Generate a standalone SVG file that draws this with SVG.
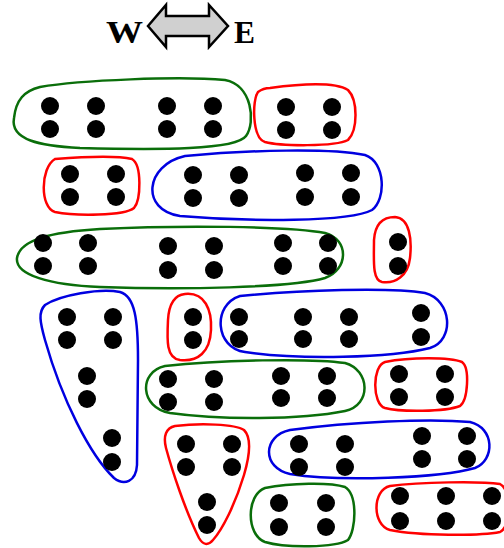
<svg xmlns="http://www.w3.org/2000/svg" width="504" height="548" viewBox="0 0 504 548">
<style>
.g{fill:none;stroke:#0a6e0a;stroke-width:2.5}
.r{fill:none;stroke:#ff0000;stroke-width:2.5}
.b{fill:none;stroke:#0000e0;stroke-width:2.5}
.d{fill:#000}
.lbl{font-family:"Liberation Serif","Times New Roman",serif;font-weight:bold;font-size:31px;fill:#000}
</style>
<rect width="504" height="548" fill="#fff"/>
<g id="compass">
<text class="lbl" x="106" y="43" textLength="37" lengthAdjust="spacingAndGlyphs">W</text>
<text class="lbl" x="234" y="43" textLength="21" lengthAdjust="spacingAndGlyphs">E</text>
<polygon points="148,26 166,5 166,16 209,16 209,5 228,26 209,47 209,36 166,36 166,47" fill="#d0d0d0" stroke="#000" stroke-width="2.5" stroke-linejoin="miter"/>
</g>
<g id="connectors"></g>
<g id="n1"><path class="g" d="M40,87 C80,80 180,76 225,80 C252,85 256,122 246,136 C236,150 160,150 80,148 C40,146 10,140 14,118 C16,100 24,91 40,87 Z"/>
<circle class="d" cx="50" cy="106" r="9"/><circle class="d" cx="96" cy="106" r="9"/><circle class="d" cx="167" cy="106" r="9"/><circle class="d" cx="213" cy="106" r="9"/>
<circle class="d" cx="50" cy="129" r="9"/><circle class="d" cx="96" cy="129" r="9"/><circle class="d" cx="167" cy="129" r="9"/><circle class="d" cx="213" cy="129" r="9"/></g>
<g id="n2"><path class="r" d="M270,88 C300,84 335,82 348,90 C358,100 358,130 348,140 C335,147 280,146 265,142 C252,138 252,100 258,92 C262,89 266,88 270,88 Z"/>
<circle class="d" cx="286" cy="107" r="9"/><circle class="d" cx="332" cy="107" r="9"/><circle class="d" cx="286" cy="130" r="9"/><circle class="d" cx="332" cy="130" r="9"/></g>
<g id="n3"><path class="r" d="M55,159 C80,157 115,155 132,159 C142,165 141,200 134,208 C124,216 75,216 55,212 C40,208 40,168 55,159 Z"/>
<circle class="d" cx="70" cy="174" r="9"/><circle class="d" cx="116" cy="174" r="9"/><circle class="d" cx="70" cy="197" r="9"/><circle class="d" cx="116" cy="197" r="9"/></g>
<g id="n4"><path class="b" d="M185,156 C250,150 330,148 365,155 C386,162 386,200 372,210 C350,222 250,222 180,216 C140,210 145,165 185,156 Z"/>
<circle class="d" cx="193" cy="175" r="9"/><circle class="d" cx="239" cy="175" r="9"/><circle class="d" cx="193" cy="198" r="9"/><circle class="d" cx="239" cy="198" r="9"/>
<circle class="d" cx="305" cy="173" r="9"/><circle class="d" cx="351" cy="173" r="9"/><circle class="d" cx="305" cy="197" r="9"/><circle class="d" cx="351" cy="197" r="9"/></g>
<g id="n5"><path class="g" d="M17,258 C20,240 50,232 100,229 C180,225 290,226 325,233 C350,240 348,270 325,278 C290,288 180,290 100,287 C50,285 15,275 17,258 Z"/>
<circle class="d" cx="43" cy="243" r="9"/><circle class="d" cx="88" cy="243" r="9"/><circle class="d" cx="43" cy="266" r="9"/><circle class="d" cx="88" cy="266" r="9"/>
<circle class="d" cx="168" cy="246" r="9"/><circle class="d" cx="214" cy="246" r="9"/><circle class="d" cx="168" cy="270" r="9"/><circle class="d" cx="214" cy="270" r="9"/>
<circle class="d" cx="283" cy="243" r="9"/><circle class="d" cx="328" cy="243" r="9"/><circle class="d" cx="283" cy="266" r="9"/><circle class="d" cx="328" cy="266" r="9"/></g>
<g id="n6"><path class="r" d="M395,217 C410,218 412,240 410,258 C408,276 395,284 382,282 C372,280 374,260 374,240 C375,225 382,217 395,217 Z"/>
<circle class="d" cx="398" cy="242" r="9"/><circle class="d" cx="398" cy="266" r="9"/></g>
<g id="n7"><path class="b" d="M45,305 C60,295 100,288 120,292 C135,296 138,320 138,360 L137,465 C136,482 124,486 114,478 C90,455 62,400 45,340 C40,322 38,312 45,305 Z"/>
<circle class="d" cx="67" cy="317" r="9"/><circle class="d" cx="113" cy="317" r="9"/><circle class="d" cx="67" cy="340" r="9"/><circle class="d" cx="113" cy="340" r="9"/>
<circle class="d" cx="87" cy="376" r="9"/><circle class="d" cx="87" cy="399" r="9"/><circle class="d" cx="112" cy="438" r="9"/><circle class="d" cx="112" cy="462" r="9"/></g>
<g id="n8"><path class="r" d="M185,294 C205,292 212,310 211,330 C210,352 198,362 180,360 C166,358 167,340 168,320 C169,303 175,295 185,294 Z"/>
<circle class="d" cx="193" cy="317" r="9"/><circle class="d" cx="193" cy="340" r="9"/></g>
<g id="n9"><path class="b" d="M240,296 C300,290 390,287 425,293 C452,300 455,340 430,348 C390,358 300,360 245,352 C215,348 212,305 240,296 Z"/>
<circle class="d" cx="239" cy="317" r="9"/><circle class="d" cx="303" cy="317" r="9"/><circle class="d" cx="349" cy="317" r="9"/>
<circle class="d" cx="239" cy="339" r="9"/><circle class="d" cx="303" cy="339" r="9"/><circle class="d" cx="349" cy="339" r="9"/>
<circle class="d" cx="421" cy="313" r="9"/><circle class="d" cx="421" cy="337" r="9"/></g>
<g id="n10"><path class="g" d="M165,366 C220,360 310,358 345,363 C370,370 372,405 345,411 C300,420 220,420 170,413 C140,408 138,372 165,366 Z"/>
<circle class="d" cx="168" cy="379" r="9"/><circle class="d" cx="214" cy="379" r="9"/><circle class="d" cx="168" cy="402" r="9"/><circle class="d" cx="214" cy="402" r="9"/>
<circle class="d" cx="281" cy="376" r="9"/><circle class="d" cx="327" cy="376" r="9"/><circle class="d" cx="281" cy="398" r="9"/><circle class="d" cx="327" cy="398" r="9"/></g>
<g id="n11"><path class="r" d="M385,362 C410,357 450,357 462,362 C470,368 468,400 460,406 C445,412 400,412 385,408 C372,404 372,366 385,362 Z"/>
<circle class="d" cx="399" cy="374" r="9"/><circle class="d" cx="445" cy="374" r="9"/><circle class="d" cx="399" cy="397" r="9"/><circle class="d" cx="445" cy="397" r="9"/></g>
<g id="n12"><path class="r" d="M175,426 C200,423 235,424 244,430 C252,438 249,458 244,475 C235,505 222,530 213,540 C208,546 203,545 199,538 C185,510 172,470 166,448 C163,436 166,428 175,426 Z"/>
<circle class="d" cx="186" cy="444" r="9"/><circle class="d" cx="232" cy="444" r="9"/><circle class="d" cx="186" cy="467" r="9"/><circle class="d" cx="232" cy="467" r="9"/>
<circle class="d" cx="207" cy="502" r="9"/><circle class="d" cx="207" cy="525" r="9"/></g>
<g id="n13"><path class="b" d="M290,430 C350,422 430,418 470,422 C495,428 495,460 475,468 C440,478 340,482 290,474 C262,468 262,436 290,430 Z"/>
<circle class="d" cx="299" cy="444" r="9"/><circle class="d" cx="345" cy="444" r="9"/><circle class="d" cx="299" cy="467" r="9"/><circle class="d" cx="345" cy="467" r="9"/>
<circle class="d" cx="422" cy="436" r="9"/><circle class="d" cx="467" cy="436" r="9"/><circle class="d" cx="422" cy="459" r="9"/><circle class="d" cx="467" cy="459" r="9"/></g>
<g id="n14"><path class="g" d="M265,488 C290,483 330,482 345,487 C358,495 356,530 348,540 C335,548 285,548 265,542 C246,535 246,495 265,488 Z"/>
<circle class="d" cx="279" cy="503" r="9"/><circle class="d" cx="326" cy="503" r="9"/><circle class="d" cx="279" cy="527" r="9"/><circle class="d" cx="326" cy="527" r="9"/></g>
<g id="n15"><path class="r" d="M390,486 C420,482 480,481 500,484 C512,490 512,526 500,532 C480,536 420,536 390,530 C372,525 372,490 390,486 Z"/>
<circle class="d" cx="400" cy="496" r="9"/><circle class="d" cx="446" cy="496" r="9"/><circle class="d" cx="492" cy="496" r="9"/>
<circle class="d" cx="400" cy="521" r="9"/><circle class="d" cx="446" cy="521" r="9"/><circle class="d" cx="492" cy="521" r="9"/></g>
</svg>
